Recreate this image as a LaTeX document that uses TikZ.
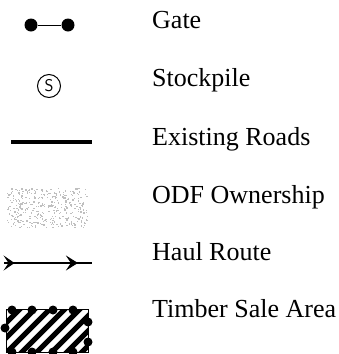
\documentclass[tikz,border=0pt]{standalone}
\usepackage{fontspec}
\setmainfont{Liberation Serif}
\usepackage{tikz}
\usetikzlibrary{arrows.meta,decorations.markings}

\begin{document}
\begin{tikzpicture}[
        x=1pt, y=-1pt,
        every node/.style={inner sep=0pt},
        legendtext/.style={anchor=base west, font=\fontsize{26}{30}\selectfont},
        gatedot/.style={circle, fill=black, minimum size=13pt},
        saledot/.style={circle, fill=black, minimum size=9pt},
        haul/.style={line width=2.2pt, postaction={decorate}, decoration={markings,
            mark=at position 0.12 with {\arrow{Stealth[length=11pt,width=15pt,inset=5pt]}},
            mark=at position 0.84 with {\arrow{Stealth[length=12pt,width=15pt,inset=5pt]}}}}
    ]
    \useasboundingbox (0,0) rectangle (338,354);

    % Symbols
    \node[gatedot] (gateA) at (31,25) {};
    \node[gatedot] (gateB) at (68,25) {};
    \node[circle, draw, line width=1pt, minimum size=23pt,
          font=\sffamily\fontsize{17}{17}\selectfont] (stock) at (49,86) {S};
    \coordinate (roadA) at (11,142);
    \coordinate (roadB) at (92,142);
    \node[minimum width=81pt, minimum height=40pt] (odf) at (47.5,208) {};
    \coordinate (haulA) at (4,263);
    \coordinate (haulB) at (92,263);
    \node[minimum width=81pt, minimum height=42pt] (sale) at (47.5,331) {};

    % ODF stipple
    \pgfmathsetseed{7}
    \foreach \i in {1,...,360}
      \fill[gray!50] ({7+80*rnd},{188+39*rnd}) rectangle ++(1.3,1.3);

    % Timber hatching
    \begin{scope}
      \clip (sale.south west) rectangle (sale.north east);
      \foreach \s in {-40,-25,...,90}
        \draw[line width=5pt] (\s,354) -- ++(46,-46);
    \end{scope}
    \draw[line width=1pt] (sale.south west) rectangle (sale.north east);
    \foreach \x in {12,32,53,73}
      \node[saledot] at (\x,310) {};
    \foreach \x in {12,32,53,73}
      \node[saledot] at (\x,352) {};
    \node[saledot] at (5,328) {};
    \node[saledot] at (88,322) {};
    \node[saledot] at (88,342) {};

    % Texts
    \node[legendtext] (gatetxt) at (152,28) {Gate};
    \node[legendtext] (stocktxt) at (152,86) {Stockpile};
    \node[legendtext] (roadtxt) at (152,145) {Existing Roads};
    \node[legendtext] (odftxt) at (152,203) {ODF Ownership};
    \node[legendtext] (haultxt) at (152,260) {Haul Route};
    \node[legendtext] (saletxt) at (152,317) {Timber Sale Area};

    % Edges
    \draw[line width=1pt] (gateA) -- (gateB);
    \draw[line width=4pt] (roadA) -- (roadB);
    \draw[haul] (haulA) -- (haulB);

\end{tikzpicture}
\end{document}
